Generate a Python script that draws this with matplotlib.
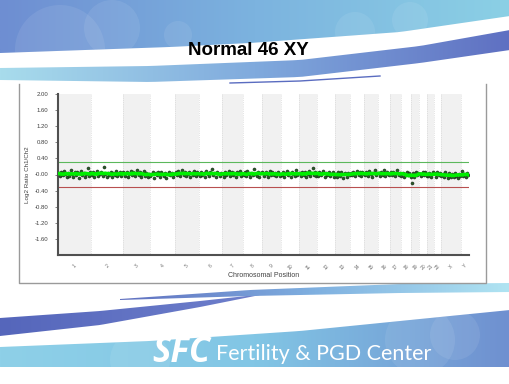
import numpy as np
import pandas as pd
import matplotlib
matplotlib.use("Agg")
import matplotlib.pyplot as plt
from matplotlib.patches import Polygon, Rectangle, Circle
from matplotlib.colors import LinearSegmentedColormap

# chromosome names and sizes (Mb)
chrom_names = ['1', '2', '3', '4', '5', '6', '7', '8', '9', '10', '11', '12',
               '13', '14', '15', '16', '17', '18', '19', '20', '21', '22', 'X', 'Y']
chrom_mb = [249, 243, 198, 191, 181, 171, 159, 146, 141, 136, 135, 134,
            115, 107, 103, 90, 81, 78, 59, 63, 48, 51, 155, 59]

# log2 ratio values (x100), in order along each chromosome
chr1 = [3, -4, 6, -2, 8, 1, -6, 4, -3, 12, 2, -5, 7, -1, 5, -8, 3, 9, -2, 4, -6, 1, 15, -3, 5]
chr2 = [-2, 5, -7, 3, 8, -4, 1, 6, -3, 18, 2, -5, 4, -1, 7, -6, 3, -2, 9, -4, 1, 5, -3, 6]
chr3 = [4, -3, 7, -6, 2, 9, -1, 5, -4, 3, 11, -2, 6, -5, 1, 8, -3, 4, -7, 2]
chr4 = [-4, 2, 6, -8, 3, -1, 5, -5, 7, 1, -3, 4, -9, 2, 6, -2, 3, -6, 1]
chr5 = [5, -2, 8, -4, 3, 10, -1, 6, -3, 2, 7, -5, 4, -1, 9, -3, 5, 2]
chr6 = [-3, 6, -1, 4, -6, 8, 2, -4, 5, 13, -2, 3, -5, 7, 1, -3, 4]
chr7 = [2, -5, 7, -2, 4, 9, -3, 6, -1, 3, -6, 5, 1, 8, -4, 2]
chr8 = [-1, 5, -4, 8, 2, -6, 4, -2, 14, 1, -3, 6, -5, 3, 7]
chr9 = [4, -3, 6, 1, -5, 9, -2, 5, -1, 3, -4, 7, 2, -3]
chr10 = [-2, 5, -5, 3, 8, -1, 4, -6, 6, 2, -3, 10, -2, 4]
chr11 = [3, -4, 7, -1, 5, -6, 2, 9, -3, 4, 16, -2, 5, -4]
chr12 = [-3, 6, -2, 4, 8, -5, 3, -1, 7, -4, 2, 5, -6]
chr13 = [2, -6, 5, -3, 7, -8, 1, 4, -5, 3, -2]
chr14 = [4, -2, 6, -4, 3, 9, -1, 5, -3, 7, 2]
chr15 = [-1, 5, -3, 8, 2, -5, 4, 11, -2, 3]
chr16 = [3, -4, 6, -1, 10, -3, 5, 2, -2]
chr17 = [5, -2, 7, -4, 3, 12, -1, 4]
chr18 = [-3, 4, -6, 2, 6, -2, 3, -5]
chr19 = [-22, 3, -5, 6, -2, 4]
chr20 = [2, -4, 7, -1, 5, -3]
chr21 = [-3, 4, -6, 2, 5]
chr22 = [3, -5, 6, -2, 4]
chrX = [-4, 2, -7, 5, -2, -8, 3, -5, 1, -6, 4, -3, -9, 2, -4]
chrY = [9, -3, 2, -6, 4, -2]
chrom_vals = [chr1, chr2, chr3, chr4, chr5, chr6, chr7, chr8, chr9, chr10, chr11, chr12,
              chr13, chr14, chr15, chr16, chr17, chr18, chr19, chr20, chr21, chr22, chrX, chrY]

ytick_vals = [2.0, 1.6, 1.2, 0.8, 0.4, 0.0, -0.4, -0.8, -1.2, -1.6]
ytick_labels = ['2.00', '1.60', '1.20', '0.80', '0.40', '-0.00', '-0.40', '-0.80', '-1.20', '-1.60']
gain_thr = 0.3
loss_thr = -0.3

W, H = 510, 384
fig = plt.figure(figsize=(W / 100, H / 100), dpi=100)
fig.patch.set_facecolor('white')

# ---- slide background (pixel coords) ----
bg = fig.add_axes([0, 0, 1, 1])
bg.set_xlim(0, W)
bg.set_ylim(H, 0)
bg.axis('off')


def grad_shape(top, bot, colors, z=1):
    verts = top + bot[::-1]
    poly = Polygon(verts, closed=True, facecolor='none', edgecolor='none')
    bg.add_patch(poly)
    cmap = LinearSegmentedColormap.from_list('g', colors)
    xs = [p[0] for p in verts]
    im = bg.imshow(np.linspace(0, 1, 256)[None, :], extent=(min(xs), max(xs), H, 0),
                   cmap=cmap, aspect='auto', zorder=z, interpolation='bilinear')
    im.set_clip_path(poly)
    return poly


def smooth(pts, n=60):
    px = [p[0] for p in pts]
    py = [p[1] for p in pts]
    xs = np.linspace(px[0], px[-1], n)
    return list(zip(xs, np.interp(xs, px, py)))


# top banner
top_poly = grad_shape([(0, 0), (510, 0)],
                      smooth([(0, 53), (170, 47), (250, 43), (400, 32), (510, 16)]),
                      ['#6e8ed2', '#7cb3df', '#8bd0e5'])
for cx, cy, r in [(60, 50, 45), (112, 28, 28), (178, 35, 14), (355, 32, 20), (410, 20, 18)]:
    c = Circle((cx, cy), r, facecolor='white', alpha=0.08, edgecolor='none', zorder=2)
    bg.add_patch(c)
    c.set_clip_path(top_poly)

grad_shape(smooth([(0, 68), (150, 66), (300, 60), (420, 46), (510, 30)]),
           smooth([(0, 80), (150, 82), (300, 77), (420, 63), (510, 50)]),
           ['#a8dcec', '#80aadd', '#5f70c2'])
bg.plot([230, 300, 380], [83, 81, 76], color='#5a6cc0', lw=1.0, zorder=3)

# bottom decoration
grad_shape(smooth([(0, 318), (100, 311), (200, 301), (265, 294)]),
           smooth([(0, 336), (100, 325), (200, 307), (265, 294)]),
           ['#5566bb', '#6f80cc'])
grad_shape(smooth([(120, 299), (250, 290), (400, 284), (510, 283)]),
           smooth([(120, 300), (250, 296), (400, 293), (510, 292)]),
           ['#6070c0', '#7fb0e0', '#b0e4f2'])
low_poly = grad_shape(smooth([(0, 347), (150, 341), (300, 331), (420, 319), (510, 310)]),
                      [(0, 367), (510, 367)],
                      ['#8ed0e8', '#82c6e5', '#6f90d0'])
for cx, cy, r in [(140, 360, 30), (420, 340, 35), (455, 335, 25)]:
    c = Circle((cx, cy), r, facecolor='white', alpha=0.08, edgecolor='none', zorder=2)
    bg.add_patch(c)
    c.set_clip_path(low_poly)

bg.text(152, 362, 'SFC', ha='left', va='baseline', fontsize=25, fontweight='bold',
        style='italic', color='white', family='Open Sans', zorder=4)
bg.text(216, 360, 'Fertility & PGD Center', ha='left', va='baseline', fontsize=15.5,
        color='white', family='Lato', zorder=4)

bg.text(248, 55, 'Normal 46 XY', ha='center', va='baseline', fontsize=13.5,
        fontweight='bold', family='Liberation Sans', color='black', zorder=4)

# chart frame
bg.add_patch(Rectangle((19, 84), 467, 199, facecolor='white', edgecolor='none', zorder=5))
bg.plot([19, 19, 486, 486], [84, 283, 283, 84], color='#9a9a9a', lw=1.0, zorder=6)

# ---- the chart itself ----
ax = fig.add_axes([58 / W, 1 - 255 / H, (469 - 58) / W, (255 - 94) / H], zorder=10)
ax.set_facecolor('white')

starts = np.concatenate([[0], np.cumsum(chrom_mb)[:-1]])
ends = np.cumsum(chrom_mb)
centers = (starts + ends) / 2
for i, (s, e) in enumerate(zip(starts, ends)):
    if i % 2 == 0:
        ax.axvspan(s, e, color='#f1f1f1', zorder=0, lw=0)
        ax.axvline(s, color='#cccccc', lw=0.5, ls=':', zorder=0.5)
        ax.axvline(e, color='#cccccc', lw=0.5, ls=':', zorder=0.5)

xs, ys = [], []
for s, size, vals in zip(starts, chrom_mb, chrom_vals):
    n = len(vals)
    for j, v in enumerate(vals):
        xs.append(s + (j + 0.5) / n * size)
        ys.append(v / 100)
df = pd.DataFrame({'pos': xs, 'log2': ys})
df['smooth'] = df['log2'].rolling(9, center=True, min_periods=1).mean()

total = ends[-1]
ax.plot([0, total], [gain_thr, gain_thr], color='#5cb85c', lw=0.8, zorder=2)
ax.plot([0, total], [loss_thr, loss_thr], color='#b85050', lw=0.8, zorder=2)
ax.scatter(df['pos'], df['log2'], s=5, color='#2c5a2c', edgecolors='#102010',
           linewidths=0.3, zorder=3)
ax.plot(df['pos'], df['smooth'], color='#00ee00', lw=2.6, zorder=4)

ax.set_xlim(0, total)
ax.set_ylim(-2, 2)
ax.set_yticks(ytick_vals)
ax.set_yticklabels(ytick_labels, fontsize=4.3, color='#404040', family='Liberation Sans')
ax.set_xticks(centers)
ax.set_xticklabels(chrom_names, fontsize=3.6, color='#707070', rotation=45,
                   family='Liberation Sans')
ax.tick_params(axis='y', length=2, width=0.5, color='#555555', pad=5)
ax.tick_params(axis='x', length=0, pad=6)
for side in ['top', 'right']:
    ax.spines[side].set_visible(False)
for side in ['left', 'bottom']:
    ax.spines[side].set_color('#505050')
    ax.spines[side].set_linewidth(1.5)
ax.set_ylabel('Log2 Ratio Ch1/Ch2', fontsize=4.5, color='#404040', family='Liberation Sans',
              labelpad=3)
ax.set_xlabel('Chromosomal Position', fontsize=5, color='#404040', family='Liberation Sans',
              labelpad=1)

fig.savefig('out.png', dpi=100)
